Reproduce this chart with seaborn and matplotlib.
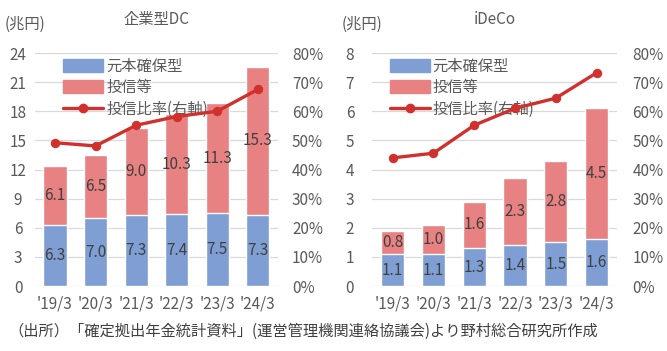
import numpy as np
import seaborn as sns
import matplotlib.pyplot as plt
from matplotlib.patches import Patch
from matplotlib.lines import Line2D

# data
years = ["'19/3", "'20/3", "'21/3", "'22/3", "'23/3", "'24/3"]

dc_principal = [6.3, 7.0, 7.3, 7.4, 7.5, 7.3]
dc_fund = [6.1, 6.5, 9.0, 10.3, 11.3, 15.3]
dc_ratio = [49.2, 48.1, 55.2, 58.2, 60.0, 67.5]

ideco_principal = [1.1, 1.1, 1.3, 1.4, 1.5, 1.6]
ideco_fund = [0.8, 1.0, 1.6, 2.3, 2.8, 4.5]
ideco_ratio = [44.0, 45.6, 55.2, 61.0, 64.5, 73.2]

blue = '#7F9FD4'
pink = '#E88182'
red = '#D0312D'
grey = '#595959'
fs = 11

sns.set_theme(style='white')
plt.rcParams['font.family'] = ['Noto Sans CJK JP', 'DejaVu Sans']

fig = plt.figure(figsize=(6.67, 3.51), dpi=100)


def draw_panel(rect, title, principal, fund, ratio, ymax, ystep, leg_x, lpad, rpad):
    ax = fig.add_axes(rect)
    total = [a + b for a, b in zip(principal, fund)]
    sns.barplot(x=years, y=total, color=pink, width=0.57, saturation=1, ax=ax, zorder=2)
    sns.barplot(x=years, y=principal, color=blue, width=0.57, saturation=1, ax=ax, zorder=3)
    ax.set_xlim(-0.5, 5.5)
    ax.set_ylim(0, ymax)
    ax.set_yticks(np.arange(0, ymax + ystep / 2, ystep))
    ax.yaxis.grid(True, color='#D9D9D9', linewidth=0.9, zorder=0)
    ax.set_axisbelow(True)
    for s in ax.spines.values():
        s.set_visible(False)
    ax.tick_params(axis='both', length=0, labelsize=fs, labelcolor=grey, pad=7)
    ax.tick_params(axis='y', pad=lpad)
    for t in ax.get_yticklabels():
        t.set_horizontalalignment('center')
    ax.set_xlabel('')
    ax.set_ylabel('')
    # segment labels
    for i in range(len(years)):
        ax.text(i, principal[i] / 2, f'{principal[i]:.1f}', ha='center', va='center',
                fontsize=fs, color='#404040', zorder=5)
        ax.text(i, principal[i] + fund[i] / 2, f'{fund[i]:.1f}', ha='center', va='center',
                fontsize=fs, color='#404040', zorder=5)

    ax2 = ax.twinx()
    sns.lineplot(x=np.arange(len(years)), y=ratio, color=red, marker='o', markersize=6,
                 markeredgecolor=red, linewidth=2.4, ax=ax2, zorder=6)
    ax2.set_ylim(0, 80)
    ax2.set_yticks(np.arange(0, 81, 10))
    ax2.set_yticklabels([f'{v}%' for v in range(0, 81, 10)])
    ax2.set_xlim(-0.5, 5.5)
    for s in ax2.spines.values():
        s.set_visible(False)
    ax2.tick_params(axis='y', length=0, labelsize=fs, labelcolor=grey, pad=rpad)

    ax.set_title(title, fontsize=fs, color=grey, pad=21)
    ax.text(-0.125, 1.125, '(兆円)', transform=ax.transAxes, fontsize=fs, color=grey,
            ha='left', va='center')

    handles = [Patch(color=blue, label='元本確保型'),
               Patch(color=pink, label='投信等'),
               Line2D([], [], color=red, marker='o', markersize=6, linewidth=2.4,
                      label='投信比率(右軸)')]
    leg = ax2.legend(handles=handles, loc='upper left', bbox_to_anchor=(leg_x, 1.02),
                     frameon=False, fontsize=fs, handlelength=2.6, handleheight=0.9,
                     handletextpad=0.2, labelspacing=0.3, borderaxespad=0.2)
    for t in leg.get_texts():
        t.set_color(grey)
    return ax


draw_panel([0.052, 0.185, 0.365, 0.664], '企業型DC', dc_principal, dc_fund, dc_ratio,
           24, 3, 0.08, 12, 10)
draw_panel([0.558, 0.185, 0.367, 0.664], 'iDeCo', ideco_principal, ideco_fund, ideco_ratio,
           8, 1, 0.035, 16, 11)

fig.text(0.012, 0.055, '（出所）「確定拠出年金統計資料」(運営管理機関連絡協議会)より野村総合研究所作成',
         fontsize=fs, color='#404040', ha='left', va='center')

fig.savefig('out.png', dpi=100, facecolor='white')
